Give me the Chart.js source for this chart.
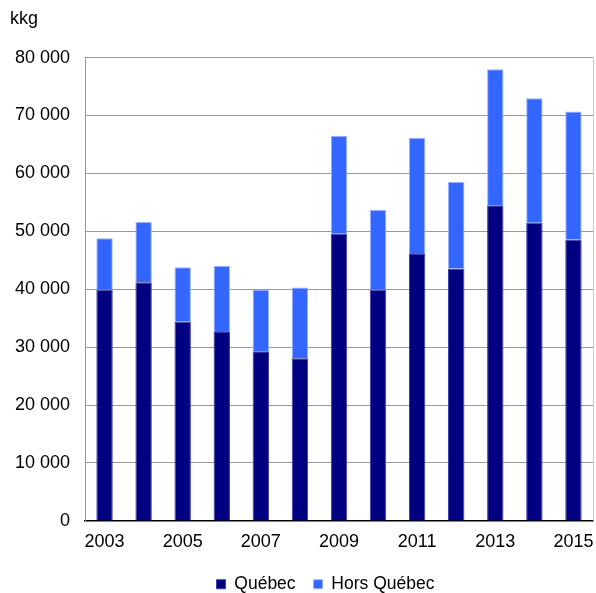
<!DOCTYPE html>
<meta charset="utf-8">
<html lang="fr">
<head>
  <title>kkg</title>
  <style type="text/css">
  html, body { margin: 0; padding: 0; background: #fff; }
  #wrap { width: 596px; height: 593px; }
  </style>
</head>
<body>
<div id="wrap">
  <canvas id="myChart" width="596" height="593"></canvas>
</div>

<script src="https://cdn.jsdelivr.net/npm/chart.js"></script>
<script>
  // years on the x axis
  const years = ['2003','2004','2005','2006','2007','2008','2009','2010','2011','2012','2013','2014','2015'];
  // Quebec part (kkg)
  const quebec = [39900, 41200, 34400, 32600, 29300, 28100, 49600, 39900, 46100, 43600, 54500, 51500, 48600];
  // outside Quebec part (kkg)
  const horsQuebec = [8900, 10400, 9400, 11400, 10600, 12200, 16900, 13800, 20000, 14900, 23500, 21500, 22100];
  const yTicks = [0, 10000, 20000, 30000, 40000, 50000, 60000, 70000, 80000];

  const FONT = 'Liberation Sans, Arial, sans-serif';
  const ctx = document.getElementById('myChart');

  function fmt(v) {
    return String(v).replace(/\B(?=(\d{3})+(?!\d))/g, ' ');
  }

  const our_chart = new Chart(ctx, {
    type: 'bar',
    data: {
      labels: years,
      datasets: [{
        label: 'Québec',
        data: quebec,
        backgroundColor: '#000080',
        borderColor: '#3a3aa8',
        borderWidth: 1,
        barPercentage: 0.42,
        categoryPercentage: 1.0
      }, {
        label: 'Hors Québec',
        data: horsQuebec,
        backgroundColor: '#3366ff',
        borderColor: '#99b3ff',
        borderWidth: 1,
        barPercentage: 0.42,
        categoryPercentage: 1.0
      }]
    },
    options: {
      responsive: false,
      animation: false,
      layout: { padding: { left: 10, right: 3, top: 8, bottom: -15 } },
      plugins: {
        title: {
          display: true,
          text: 'kkg',
          align: 'start',
          color: '#000',
          font: { family: FONT, size: 18, weight: 'normal' },
          padding: { top: 0, bottom: 28 }
        },
        legend: {
          position: 'bottom',
          labels: {
            color: '#000',
            font: { family: FONT, size: 17.5 },
            boxWidth: 9,
            boxHeight: 9,
            padding: 18
          }
        },
        tooltip: { enabled: false }
      },
      scales: {
        x: {
          stacked: true,
          grid: { display: false, drawTicks: false },
          border: { color: '#000', width: 1.5 },
          ticks: {
            color: '#000',
            font: { family: FONT, size: 18 },
            autoSkip: false,
            maxRotation: 0,
            padding: 10,
            callback: function (v, i) { return i % 2 === 0 ? years[i] : ''; }
          },
          afterFit: (axis) => { axis.paddingLeft = 0; axis.paddingRight = 0; }
        },
        y: {
          stacked: true,
          min: 0,
          max: 80000,
          afterBuildTicks: (axis) => { axis.ticks = yTicks.map(v => ({ value: v })); },
          afterFit: (axis) => { axis.width = 75; },
          grid: { color: '#999999', lineWidth: 1, drawTicks: false },
          border: { color: '#999999' },
          ticks: {
            color: '#000',
            font: { family: FONT, size: 18 },
            padding: 15,
            callback: (v) => fmt(v)
          }
        }
      }
    },
    plugins: [{
      id: 'legendShift',
      afterLayout: (chart) => {
        // legend sits a bit right of centre in the original
        const lg = chart.legend;
        lg.top -= 5; lg.bottom -= 5;
        lg.left += 24; lg.right += 24;
      }
    }, {
      id: 'rightEdge',
      afterDraw: (chart) => {
        const a = chart.chartArea;
        const c = chart.ctx;
        c.save();
        c.strokeStyle = '#cccccc';
        c.lineWidth = 1;
        c.beginPath();
        c.moveTo(a.right + 0.5, a.top);
        c.lineTo(a.right + 0.5, a.bottom);
        c.stroke();
        c.restore();
      }
    }]
  });
</script>
</body>
</html>
